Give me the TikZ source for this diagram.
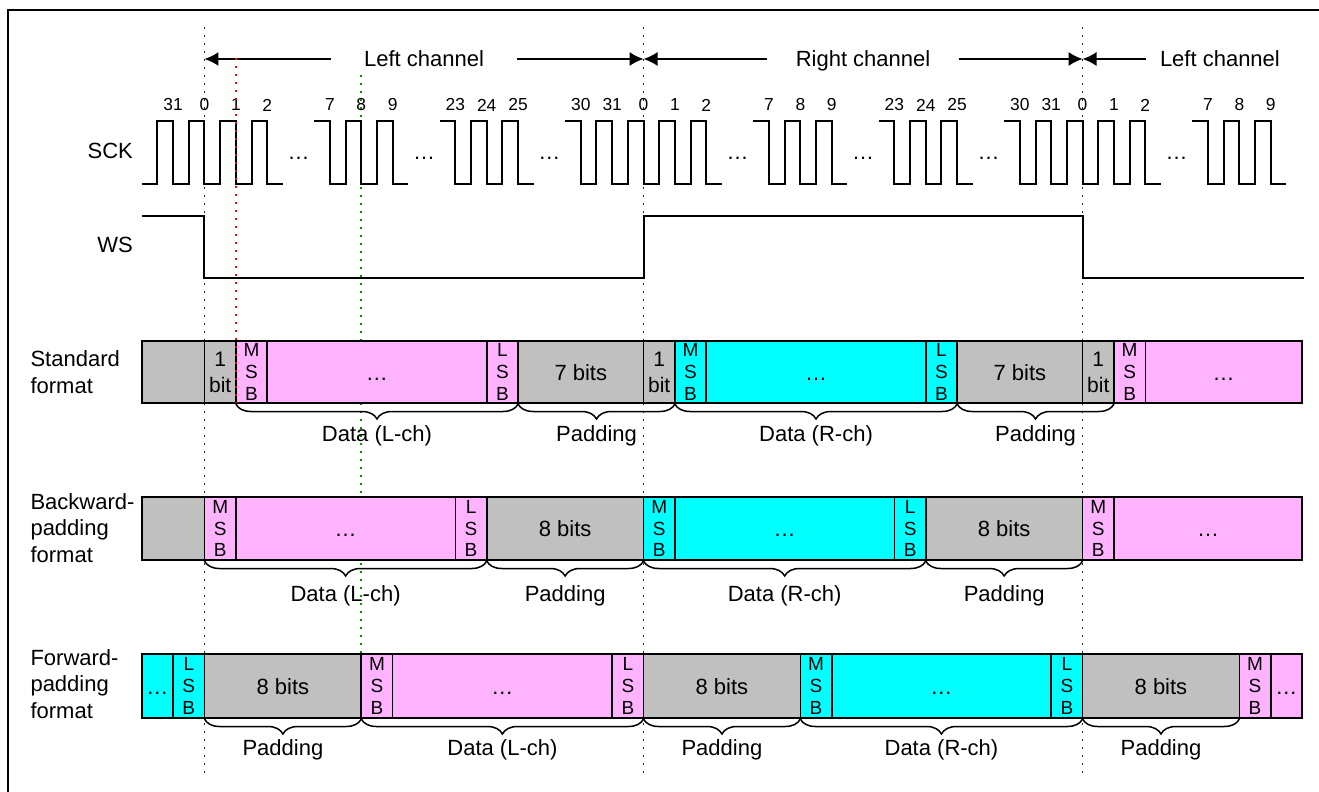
\documentclass[tikz,border=0pt]{standalone}
\usepackage{fontspec}
\setmainfont{Liberation Sans}
\usetikzlibrary{%
    arrows.meta,
    decorations.pathreplacing
}
\definecolor{padgray}{RGB}{192,192,192}
\definecolor{lchpink}{RGB}{255,179,255}
\definecolor{rchcyan}{RGB}{0,255,255}
\definecolor{guidegreen}{RGB}{0,150,0}

\tikzset{headarrow/.style = {-{Latex[length=7pt,width=7pt]}}}
\tikzset{chan/.style = {line width=.75pt,headarrow}}
\tikzset{chanlab/.style = {inner xsep=16.5pt,text height=8pt,text depth=0pt}}
\tikzset{wave/.style = {line width=1pt,line join=miter}}
\tikzset{guide/.style = {line width=.8pt,dash pattern=on .8pt off 3.2pt}}
\tikzset{bitnum/.style = {font=\fontsize{8.7}{10}\selectfont}}
\tikzset{rowlab/.style = {anchor=west,align=left,inner sep=0pt}}
\tikzset{cell/.style = {draw,line width=.8pt,inner sep=0pt,outer sep=0pt,align=center}}
\tikzset{gcell/.style = {cell,fill=padgray,text height=8pt,text depth=0pt}}
\tikzset{lcell/.style = {cell,fill=lchpink,text height=8pt,text depth=0pt}}
\tikzset{rcell/.style = {cell,fill=rchcyan,text height=8pt,text depth=0pt}}
\tikzset{gbit/.style = {cell,fill=padgray,font=\fontsize{10.5}{13}\selectfont}}
\tikzset{lsb/.style = {cell,fill=lchpink,font=\fontsize{9.5}{10.9}\selectfont}}
\tikzset{rsb/.style = {cell,fill=rchcyan,font=\fontsize{9.5}{10.9}\selectfont}}
\tikzset{brc/.style = {decorate,decoration={brace,mirror,amplitude=7.5pt},line width=.75pt}}

\begin{document}
\begin{tikzpicture}[x=15.68pt,y=-0.5pt,font=\fontsize{11}{13.4}\selectfont]
    \useasboundingbox (-6.521,0) rectangle (35.539,792);
    \draw[line width=1.15pt] (-6.275,800) -- (-6.275,10) -- (36,10);

    \foreach \Pos in {0,14,28}
        \draw[guide,black!85] (\Pos,27) -- (\Pos,778);
    \draw[guide,guidegreen] (5,75) -- (5,654);

    \coordinate (b0) at (0,59);
    \coordinate (b14) at (14,59);
    \coordinate (b28) at (28,59);
    \node (lch1) [chanlab] at (7,59) {Left channel};
    \node (rch) [chanlab,inner xsep=14pt] at (21,59) {Right channel};
    \node (lch2) [chanlab,inner xsep=7pt] at (32.38,59) {Left channel};
    \foreach \Source/\Target in {lch1/b0, lch1/b14, rch/b14, rch/b28, lch2/b28}
        \draw[chan] (\Source) -- (\Target);

    \node (sck) [anchor=east,inner sep=0pt] at (-2.27,151.3) {SCK};
    \node (ws) [anchor=east,inner sep=0pt] at (-2.27,245.3) {WS};
    \draw[wave] (-2,183.7) -- (-1.5,183.7) -- (-1.5,121.3) -- (-1,121.3);
    \foreach \Start/\Stop in {-1/2, 4/6, 8/10, 12/16, 18/20, 22/24, 26/30, 32/34} {
        \pgfmathtruncatemacro{\Next}{\Start+1}
        \draw[wave] ({\Start-.5},121.3) -- (\Start,121.3) -- (\Start,183.7)
            foreach \k in {\Next,...,\Stop} {-- ({\k-.5},183.7) -- ({\k-.5},121.3) -- (\k,121.3) -- (\k,183.7)}
            -- ({\Stop+.5},183.7);
    }
    \foreach \Pos/\Num in {-1/31, 0/0, 1/1, 2/2, 4/7, 5/8, 6/9, 8/23, 9/24, 10/25,
        12/30, 13/31, 14/0, 15/1, 16/2, 18/7, 19/8, 20/9, 22/23, 23/24, 24/25,
        26/30, 27/31, 28/0, 29/1, 30/2, 32/7, 33/8, 34/9}
        \node[bitnum] (bit\Pos) at (\Pos,105) {\Num};
    \foreach \Pos [count=\i] in {3,7,11,17,21,25,31}
        \node[anchor=base] (gap\i) at (\Pos,160) {…};
    \draw[wave] (-2,215.7) -- (0,215.7) -- (0,277.7) -- (14,277.7) -- (14,215.7)
        -- (28,215.7) -- (28,277.7) -- (35.07,277.7);

    \node[rowlab] (stdlab) at (-5.56,372) {Standard\\format};
    \foreach \Start/\Stop/\Kind/\Label [count=\i] in {-2/0/gcell/{}, 0/1/gbit/{1\\bit},
        1/2/lsb/{M\\S\\B}, 2/9/lcell/{…}, 9/10/lsb/{L\\S\\B}, 10/14/gcell/{7 bits},
        14/15/gbit/{1\\bit}, 15/16/rsb/{M\\S\\B}, 16/23/rcell/{…}, 23/24/rsb/{L\\S\\B},
        24/28/gcell/{7 bits}, 28/29/gbit/{1\\bit}, 29/30/lsb/{M\\S\\B}, 30/35/lcell/{…}}
        \node[\Kind,minimum width={(\Stop-(\Start))*15.68pt},minimum height=31pt]
            (std\i) at ({(\Start+\Stop)/2},372) {\Label};
    \foreach \Start/\Stop/\Label [count=\i] in {1/10/Data (L-ch), 10/15/Padding,
        15/24/Data (R-ch), 24/29/Padding} {
        \draw[brc] (\Start,404) -- (\Stop,404);
        \node[anchor=base] (stdbr\i) at ({(\Start+\Stop)/2},441.7) {\Label};
    }

    \node[rowlab] (bwdlab) at (-5.56,528) {Backward-\\padding\\format};
    \foreach \Start/\Stop/\Kind/\Label [count=\i] in {-2/0/gcell/{}, 0/1/lsb/{M\\S\\B},
        1/8/lcell/{…}, 8/9/lsb/{L\\S\\B}, 9/14/gcell/{8 bits}, 14/15/rsb/{M\\S\\B},
        15/22/rcell/{…}, 22/23/rsb/{L\\S\\B}, 23/28/gcell/{8 bits}, 28/29/lsb/{M\\S\\B},
        29/35/lcell/{…}}
        \node[\Kind,minimum width={(\Stop-(\Start))*15.68pt},minimum height=31.5pt]
            (bwd\i) at ({(\Start+\Stop)/2},528.5) {\Label};
    \foreach \Start/\Stop/\Label [count=\i] in {0/9/Data (L-ch), 9/14/Padding,
        14/23/Data (R-ch), 23/28/Padding} {
        \draw[brc] (\Start,561) -- (\Stop,561);
        \node[anchor=base] (bwdbr\i) at ({(\Start+\Stop)/2},601.5) {\Label};
    }

    \node[rowlab] (fwdlab) at (-5.56,684) {Forward-\\padding\\format};
    \foreach \Start/\Stop/\Kind/\Label [count=\i] in {-2/-1/rcell/{…}, -1/0/rsb/{L\\S\\B},
        0/5/gcell/{8 bits}, 5/6/lsb/{M\\S\\B}, 6/13/lcell/{…}, 13/14/lsb/{L\\S\\B},
        14/19/gcell/{8 bits}, 19/20/rsb/{M\\S\\B}, 20/27/rcell/{…}, 27/28/rsb/{L\\S\\B},
        28/33/gcell/{8 bits}, 33/34/lsb/{M\\S\\B}, 34/35/lcell/{…}}
        \node[\Kind,minimum width={(\Stop-(\Start))*15.68pt},minimum height=32pt]
            (fwd\i) at ({(\Start+\Stop)/2},686) {\Label};
    \foreach \Start/\Stop/\Label [count=\i] in {0/5/Padding, 5/14/Data (L-ch),
        14/19/Padding, 19/28/Data (R-ch), 28/33/Padding} {
        \draw[brc] (\Start,719) -- (\Stop,719);
        \node[anchor=base] (fwdbr\i) at ({(\Start+\Stop)/2},755) {\Label};
    }

    \draw[guide,red] (1,58) -- (1,403);
\end{tikzpicture}
\end{document}
